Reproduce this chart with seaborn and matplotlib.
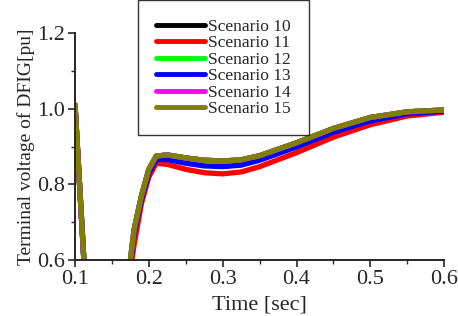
import numpy as np
import pandas as pd
import matplotlib
matplotlib.use("Agg")
import matplotlib.pyplot as plt
import seaborn as sns

time = [0.100, 0.112, 0.120, 0.170, 0.175, 0.180, 0.190, 0.200, 0.210, 0.225, 0.250, 0.275, 0.300, 0.325, 0.350, 0.400, 0.450, 0.500, 0.550, 0.600]
olive_v = [1.01, 0.60, 0.30, 0.30, 0.60, 0.68, 0.77, 0.84, 0.875, 0.878, 0.870, 0.864, 0.862, 0.865, 0.876, 0.910, 0.948, 0.977, 0.992, 0.997]
blue_v  = [1.01, 0.60, 0.30, 0.30, 0.59, 0.67, 0.76, 0.83, 0.866, 0.866, 0.856, 0.849, 0.847, 0.851, 0.864, 0.899, 0.938, 0.968, 0.987, 0.994]
red_v   = [1.01, 0.60, 0.30, 0.30, 0.57, 0.64, 0.75, 0.82, 0.856, 0.853, 0.840, 0.831, 0.828, 0.833, 0.847, 0.884, 0.925, 0.958, 0.981, 0.991]

scenarios = ["Scenario 10", "Scenario 11", "Scenario 12", "Scenario 13", "Scenario 14", "Scenario 15"]
series = [olive_v, red_v, olive_v, blue_v, olive_v, olive_v]
colors = ["#000000", "#ff0000", "#00ff00", "#0000ff", "#ff00ff", "#808000"]

frames = []
for name, vals in zip(scenarios, series):
    frames.append(pd.DataFrame({"Time": time, "Voltage": vals, "Scenario": name}))
df = pd.concat(frames, ignore_index=True)

sns.set_style("ticks")
plt.rcParams['font.family'] = ['Liberation Serif', 'DejaVu Serif']

fig = plt.figure(figsize=(4.58, 3.16), dpi=100)
ax = fig.add_axes([0.1638, 0.177, 0.806, 0.718])
sns.lineplot(data=df, x="Time", y="Voltage", hue="Scenario", hue_order=scenarios,
             palette=dict(zip(scenarios, colors)), linewidth=3.8, ax=ax, legend=True)

ax.set_xlim(0.1, 0.6)
ax.set_ylim(0.6, 1.2)
ax.set_xticks([0.1, 0.2, 0.3, 0.4, 0.5, 0.6])
ax.set_xticks([0.15, 0.25, 0.35, 0.45, 0.55], minor=True)
ax.set_yticks([0.6, 0.8, 1.0, 1.2])
ax.set_yticks([0.7, 0.9, 1.1], minor=True)
ax.set_xticklabels(["0.1", "0.2", "0.3", "0.4", "0.5", "0.6"], fontsize=16)
ax.set_yticklabels(["0.6", "0.8", "1.0", "1.2"], fontsize=16)
ax.tick_params(axis='both', which='major', length=5, width=1.2, direction='out', pad=2)
ax.tick_params(axis='both', which='minor', length=3, width=1.0, direction='out')
for s in ["top", "right"]:
    ax.spines[s].set_visible(False)
for s in ["left", "bottom"]:
    ax.spines[s].set_linewidth(1.4)
ax.set_xlabel("Time [sec]", fontsize=16, labelpad=5)
ax.set_ylabel("Terminal voltage of DFIG[pu]", fontsize=14, labelpad=2)

leg = ax.legend(loc="upper left", bbox_to_anchor=(0.17, 1.145), frameon=True, fancybox=False,
                edgecolor="black", fontsize=12.5, handlelength=2.8, handletextpad=0.17,
                labelspacing=0.02, borderpad=1.05, borderaxespad=0)
leg.get_frame().set_linewidth(1.0)
for line in leg.get_lines():
    line.set_linewidth(3.5)

fig.savefig("out.png", dpi=100)
